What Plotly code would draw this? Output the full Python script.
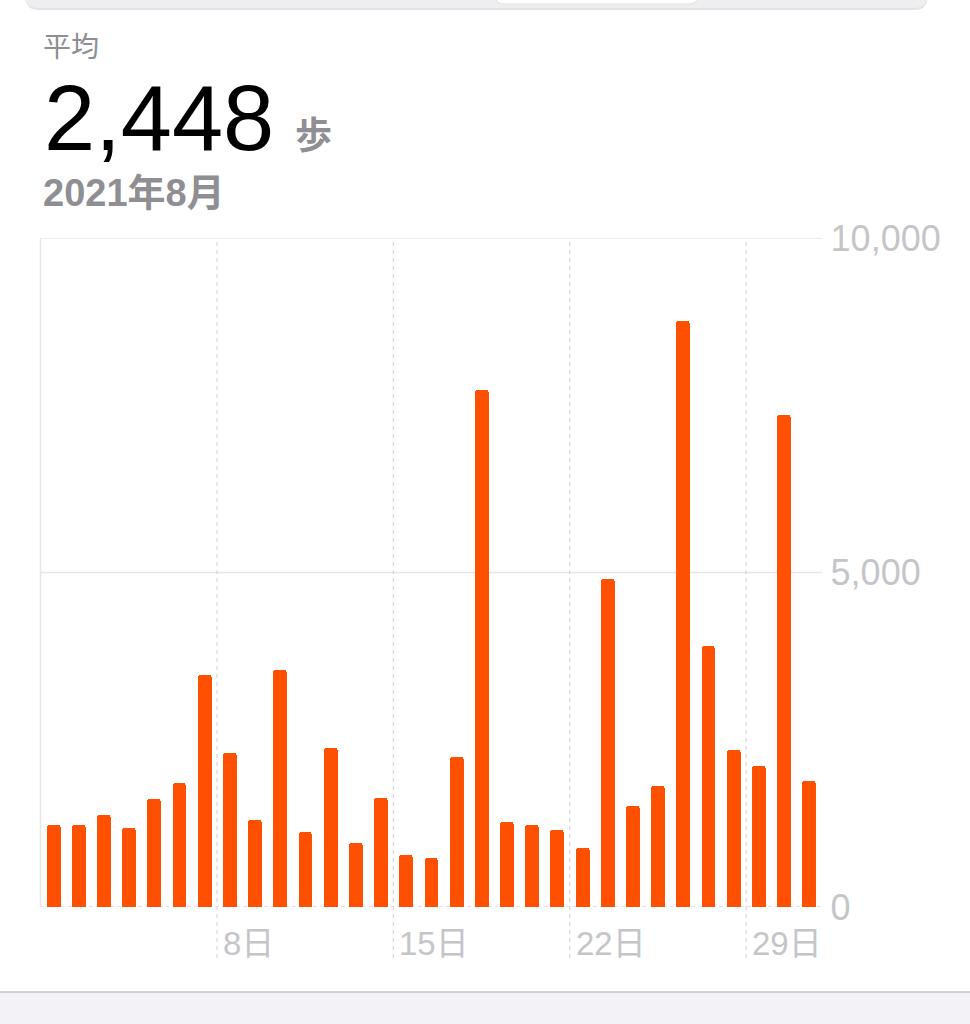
import plotly.graph_objects as go

# daily step counts, August 2021
days = list(range(1, 32))
steps = [1226, 1226, 1380, 1185, 1610, 1858, 3468, 2297, 1300, 3543,
         1117, 2381, 951, 1630, 776, 736, 2237, 7728, 1275, 1221,
         1157, 888, 4907, 1505, 1815, 8764, 3901, 2353, 2103, 7354,
         1879]

y_ticks = [0, 5000, 10000]
y_tick_text = ["0", "5,000", "10,000"]
week_starts = [8, 15, 22, 29]
week_labels = ["8日", "15日", "22日", "29日"]

W, H = 970, 1024
FONT = "Liberation Sans, Noto Sans CJK JP, sans-serif"
GRAY = "#8e8e93"
LIGHT = "#c5c5c9"
GRID = "#e5e5ea"
ORANGE = "#ff4f00"


def px(x):
    return x / W


def py(y):
    return 1 - y / H


fig = go.Figure(go.Bar(
    x=days, y=steps, width=0.55,
    marker=dict(color=ORANGE, cornerradius=3, line_width=0),
    hoverinfo="skip",
))

shapes = []
# horizontal guides
for v in y_ticks[1:]:
    shapes.append(dict(type="line", xref="paper", yref="y", x0=px(40), x1=px(822),
                       y0=v, y1=v, line=dict(color=GRID, width=1.5), layer="below"))
shapes.append(dict(type="line", xref="paper", yref="y", x0=px(40), x1=px(822),
                   y0=0, y1=0, line=dict(color="#dcdce0", width=1.5, dash="4px,3px"),
                   layer="below"))
# left edge
shapes.append(dict(type="line", xref="paper", yref="paper", x0=px(40.5), x1=px(40.5),
                   y0=py(907), y1=py(238), line=dict(color=GRID, width=1.5), layer="below"))
# week separators
for d in week_starts:
    shapes.append(dict(type="line", xref="x", yref="paper", x0=d - 0.5, x1=d - 0.5,
                       y0=py(958), y1=py(238),
                       line=dict(color="#d6d6da", width=1.2, dash="4px,4px"), layer="below"))


def rounded_bottom(x0, x1, y0, y1, r):
    # rectangle with rounded bottom corners, pixel coords -> paper
    return ("M {a},{b} L {c},{b} L {c},{d} Q {c},{e} {f},{e} L {g},{e} Q {a},{e} {a},{d} Z"
            .format(a=px(x0), b=py(y0), c=px(x1), d=py(y1 - r), e=py(y1),
                    f=px(x1 - r), g=px(x0 + r)))


# segmented control peeking in at the top
shapes.append(dict(type="path", xref="paper", yref="paper",
                   path=rounded_bottom(25, 928, -20, 10, 14),
                   fillcolor="#e4e4e7", line_width=0))
shapes.append(dict(type="path", xref="paper", yref="paper",
                   path=rounded_bottom(25, 928, -20, 8, 14),
                   fillcolor="#eeeef0", line_width=0))
shapes.append(dict(type="path", xref="paper", yref="paper",
                   path=rounded_bottom(495, 698, -20, 4, 9),
                   fillcolor="#ffffff", line=dict(color="#e2e2e5", width=1)))
# bottom gray band
shapes.append(dict(type="rect", xref="paper", yref="paper", x0=0, x1=1,
                   y0=0, y1=py(992), fillcolor="#f2f2f7",
                   line_width=0, layer="below"))
shapes.append(dict(type="line", xref="paper", yref="paper", x0=0, x1=1,
                   y0=py(992), y1=py(992), line=dict(color="#c6c6c8", width=1.5)))

annotations = [
    dict(text="平均", x=px(41), y=py(47), font=dict(size=28, color=GRAY)),
    dict(text="2,448", x=px(42), y=py(118), font=dict(size=92, color="#000000")),
    dict(text="<b>歩</b>", x=px(293), y=py(136), font=dict(size=37, color=GRAY)),
    dict(text="<b>2021年8月</b>", x=px(41), y=py(193), font=dict(size=38, color=GRAY)),
]
for a in annotations:
    a.update(xref="paper", yref="paper", xanchor="left", yanchor="middle",
             showarrow=False)
for d, lab in zip(week_starts, week_labels):
    annotations.append(dict(text=lab, x=d - 0.5, xref="x", y=py(943), yref="paper",
                            xanchor="left", yanchor="middle", xshift=4, showarrow=False,
                            font=dict(size=33, color=LIGHT)))

fig.update_layout(
    width=W, height=H,
    margin=dict(l=0, r=0, t=0, b=0, autoexpand=False),
    paper_bgcolor="#ffffff",
    plot_bgcolor="rgba(0,0,0,0)",
    font=dict(family=FONT),
    showlegend=False,
    bargap=0,
    shapes=shapes,
    annotations=annotations,
    xaxis=dict(domain=[px(40.7), px(821.6)], range=[0.5, 31.5], showgrid=False,
               zeroline=False, showticklabels=False, showline=False, fixedrange=True,
               automargin=False),
    yaxis=dict(domain=[py(907), py(238)], range=[0, 10000], side="right",
               tickvals=y_ticks, ticktext=y_tick_text, showgrid=False, zeroline=False,
               ticks="", ticklabelstandoff=8, automargin=False,
               tickfont=dict(size=36, color=LIGHT), fixedrange=True),
)

# drop the browser's default body margin so the figure sits flush
fig.write_html("out.html", config={"displayModeBar": False},
               post_script="document.body.style.margin='0';")
